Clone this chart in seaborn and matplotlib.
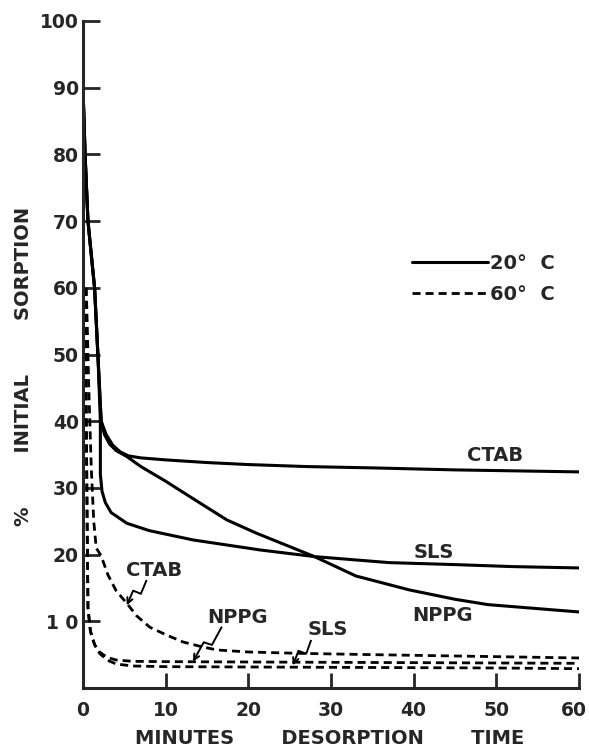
import numpy as np
import pandas as pd
import matplotlib
matplotlib.use("Agg")
import matplotlib.pyplot as plt
import matplotlib.transforms as mtransforms
from matplotlib.lines import Line2D
import seaborn as sns

# ---------------- data ----------------
t_ctab20 = [0, 0.25, 0.6, 1.4, 1.8, 2.2, 2.8, 3.6, 4.5, 5.5, 7, 10, 15, 20, 27, 35, 45, 60]
v_ctab20 = [90, 80, 70, 60, 50, 40, 38, 36.4, 35.4, 34.8, 34.5, 34.2, 33.8, 33.5, 33.2, 33.0, 32.7, 32.4]

t_nppg20 = [0, 0.25, 0.6, 1.4, 1.8, 2.2, 2.6, 3.2, 4, 5.3, 7, 10, 13.3, 17.4, 21, 25, 28, 33, 39.5, 45, 49, 55, 60]
v_nppg20 = [90, 80, 70, 60, 50, 40, 38, 36.6, 35.6, 34.7, 33.2, 31, 28.4, 25.2, 23.2, 21.2, 19.7, 16.8, 14.7, 13.3, 12.5, 11.9, 11.4]

t_sls20 = [0, 0.25, 0.6, 1.4, 1.8, 2.1, 2.1, 2.3, 2.7, 3.4, 5.3, 8, 13.3, 21.4, 28, 37, 45, 52, 60]
v_sls20 = [90, 80, 70, 60, 50, 40, 32, 29.5, 27.8, 26.3, 24.7, 23.6, 22.2, 20.7, 19.7, 18.8, 18.5, 18.2, 18.0]

t_ctab60 = [0.4, 0.7, 1.0, 1.3, 1.6, 2.2, 3, 4, 5.3, 6.5, 8.1, 10, 12.1, 14, 16.2, 20, 26, 35, 45, 60]
v_ctab60 = [60, 45, 33, 25, 21, 19.8, 17, 14.6, 12.7, 10.8, 9.1, 8.0, 6.9, 6.3, 5.7, 5.4, 5.2, 5.0, 4.8, 4.5]

t_nppg60 = [0.3, 0.4, 0.5, 0.6, 0.9, 1.4, 2.0, 2.9, 4, 6, 10, 20, 30, 40, 50, 60]
v_nppg60 = [60, 40, 25, 12, 8.5, 6.5, 5.4, 4.6, 4.2, 4.0, 3.95, 3.9, 3.85, 3.8, 3.75, 3.7]

t_sls60 = [0.3, 0.4, 0.5, 0.6, 0.9, 1.4, 2.0, 2.9, 4, 6, 10, 20, 30, 40, 50, 60]
v_sls60 = [60, 40, 25, 12, 8.5, 6.5, 5.2, 4.2, 3.6, 3.3, 3.2, 3.15, 3.1, 3.05, 3.0, 2.9]

x_ticks = [0, 10, 20, 30, 40, 50, 60]
x_ticklabels = ["0", "10", "20", "30", "40", "50", "60"]
y_ticks = [10, 20, 30, 40, 50, 60, 70, 80, 90, 100]
y_ticklabels = ["1 0", "20", "30", "40", "50", "60", "70", "80", "90", "100"]

legend_labels = ["20°  C", "60°  C"]
x_label = "MINUTES       DESORPTION       TIME"
y_label = "%        INITIAL        SORPTION"

# ---------------- style ----------------
sns.set_style("ticks")
plt.rcParams["font.family"] = ["DejaVu Sans"]
plt.rcParams["font.weight"] = "bold"

FS = 14
TICK_FS = 13.5
SOLID_LW = 2.2
DASH_LW = 2.0
DASH = (0, (2.9, 1.8))

fig = plt.figure(figsize=(5.89, 7.48), dpi=100)
ax = fig.add_axes([83 / 589, 60 / 748, 496 / 589, 667 / 748])

series = [
    (t_ctab20, v_ctab20, "-"),
    (t_nppg20, v_nppg20, "-"),
    (t_sls20, v_sls20, "-"),
    (t_ctab60, v_ctab60, DASH),
    (t_nppg60, v_nppg60, DASH),
    (t_sls60, v_sls60, DASH),
]
for t, v, ls in series:
    df = pd.DataFrame({"t": t, "v": v})
    sns.lineplot(data=df, x="t", y="v", ax=ax, color="black", sort=False,
                 estimator=None, linestyle=ls,
                 linewidth=SOLID_LW if ls == "-" else DASH_LW)

ax.set_xlim(0, 60)
ax.set_ylim(0, 100)
ax.set_xticks(x_ticks)
ax.set_xticklabels(x_ticklabels, fontsize=TICK_FS, fontweight="bold")
ax.set_yticks(y_ticks)
ax.set_yticklabels(y_ticklabels, fontsize=TICK_FS, fontweight="bold")
ax.tick_params(axis="y", direction="in", length=12, width=2.0, pad=3)
ax.tick_params(axis="x", direction="in", length=11, width=2.0, pad=9)
for s in ["top", "right"]:
    ax.spines[s].set_visible(False)
for s in ["left", "bottom"]:
    ax.spines[s].set_linewidth(2.2)

# keep the last x tick label inside the figure
last = ax.get_xticklabels()[-1]
last.set_transform(last.get_transform() +
                   mtransforms.ScaledTranslation(-4 / 72, 0, fig.dpi_scale_trans))

ax.set_xlabel(x_label, fontsize=FS, fontweight="bold")
ax.xaxis.label.set_va("center")
ax.xaxis.set_label_coords(0.497, (688 - 738) / 667)
ax.set_ylabel(y_label, fontsize=FS, fontweight="bold")
ax.yaxis.label.set_va("center")
ax.yaxis.set_label_coords((24 - 83) / 496, (688 - 366) / 667)

# legend
handles = [Line2D([], [], color="black", lw=SOLID_LW, linestyle="-"),
           Line2D([], [], color="black", lw=DASH_LW, linestyle=DASH)]
ax.legend(handles, legend_labels, loc="upper left",
          bbox_to_anchor=((412 - 83) / 496, (688 - 254) / 667),
          frameon=False, handlelength=3.9, handletextpad=0.1,
          labelspacing=0.6, borderpad=0, borderaxespad=0,
          prop={"weight": "bold", "size": FS})

# curve labels
def label(x, y, s):
    ax.text(x, y, s, fontsize=FS, fontweight="bold", ha="center", va="center")

label(49.8, 34.9, "CTAB")
label(42.4, 20.3, "SLS")
label(43.5, 10.85, "NPPG")
label(8.6, 17.6, "CTAB")
label(18.7, 10.6, "NPPG")
label(29.6, 8.8, "SLS")

def zigzag(start, end, amp=4.0):
    tr = ax.transData
    s = tr.transform(start)
    e = tr.transform(end)
    d = e - s
    L = np.hypot(*d)
    u = d / L
    n = np.array([-u[1], u[0]])
    p1 = s + 0.45 * d + n * amp
    p2 = s + 0.52 * d - n * amp
    pts = tr.inverted().transform(np.array([s, p1, p2]))
    ax.plot(pts[:, 0], pts[:, 1], color="black", lw=1.4, solid_capstyle="butt")
    ax.annotate("", xy=end, xytext=tuple(pts[2]),
                arrowprops=dict(arrowstyle="->", lw=1.4, color="black",
                                shrinkA=0, shrinkB=0, mutation_scale=10))

zigzag((7.7, 16.2), (5.3, 12.4))
zigzag((16.8, 9.2), (13.3, 3.95))
zigzag((27.6, 7.2), (25.4, 3.4))

fig.savefig("out.png", dpi=100)
